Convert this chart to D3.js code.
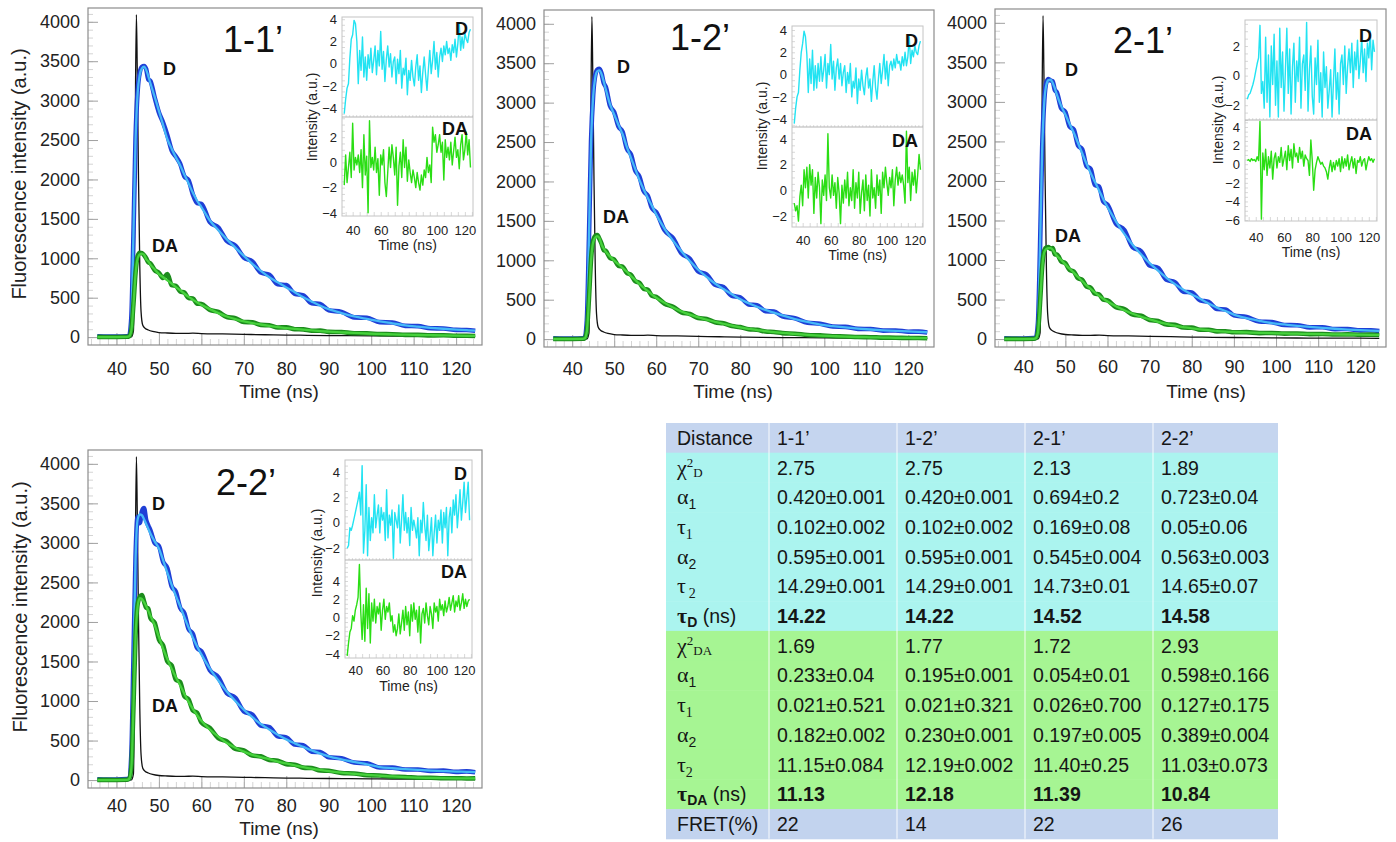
<!DOCTYPE html>
<html><head><meta charset="utf-8">
<script src="https://cdn.jsdelivr.net/npm/d3@7"></script>
<style>body{margin:0;background:#fff}svg{display:block}</style>
</head><body>
<svg id="c" width="1396" height="842"></svg>
<script>
// ---------------- DATA ----------------
const panelNames = ["1-1\u2019", "1-2\u2019", "2-1\u2019", "2-2\u2019"];
const tickX = [40, 50, 60, 70, 80, 90, 100, 110, 120];
const tickY = [0, 500, 1000, 1500, 2000, 2500, 3000, 3500, 4000];
const insetTickX = [40, 60, 80, 100, 120];

// time grid of decay curves (ns)
const decayTime = [35.5, 40, 42.5, 43, 43.5, 44, 44.5, 45, 45.5, 46, 46.5, 47, 47.5, 48, 49, 50, 51, 52, 53, 54, 55, 56, 57, 58, 59, 60, 62, 64, 66, 68, 70, 72, 74, 76, 78, 80, 82, 84, 86, 88, 90, 93, 96, 99, 102, 105, 108, 111, 114, 117, 120, 122.5, 124.5];

// instrument response (black)
const irfTime = [35.5, 43.5, 44.0, 44.3, 44.5, 44.7, 44.9, 45.2, 45.5, 45.8, 46.2, 46.8, 47.5, 48.5, 50, 52, 54, 56, 58, 60, 65, 70, 75, 80, 85, 90, 95, 100, 105, 110, 115, 120, 124.5];
const irfCounts = [0, 2, 80, 1500, 3200, 4090, 3400, 2000, 900, 320, 150, 110, 90, 72, 58, 52, 48, 47, 50, 45, 40, 35, 30, 26, 23, 20, 18, 16, 14, 13, 12, 11, 10];

// 1-1'
const p11_dData = [10, 6, 12, 18, 240, 1280, 2520, 3130, 3360, 3430, 3440, 3400, 3270, 3250, 3040, 2850, 2720, 2560, 2370, 2290, 2200, 2040, 1990, 1810, 1700, 1690, 1460, 1390, 1220, 1160, 1010, 960, 820, 790, 670, 660, 550, 530, 430, 420, 340, 320, 250, 245, 190, 185, 142, 140, 112, 110, 92, 90, 80];
const p11_dFit = [8, 8, 10, 15, 250, 1300, 2500, 3100, 3330, 3410, 3430, 3390, 3310, 3220, 3050, 2870, 2690, 2510, 2390, 2280, 2180, 2060, 1950, 1830, 1730, 1650, 1480, 1355, 1240, 1135, 1030, 930, 840, 760, 695, 630, 570, 505, 450, 398, 355, 305, 262, 230, 200, 175, 150, 133, 118, 106, 96, 88, 82];
const p11_daData = [3, 2, 4, 12, 90, 420, 820, 1030, 1070, 1065, 1040, 1000, 950, 935, 850, 815, 750, 800, 660, 650, 580, 565, 495, 490, 425, 420, 345, 320, 255, 240, 192, 188, 155, 150, 122, 124, 100, 98, 80, 82, 67, 64, 50, 49, 38, 37, 29, 28, 22, 23, 18, 18, 15];
const p11_daFit = [0, 0, 2, 10, 80, 400, 800, 1000, 1050, 1060, 1045, 990, 960, 920, 860, 800, 760, 720, 680, 635, 595, 550, 510, 475, 440, 410, 355, 305, 262, 228, 200, 178, 160, 143, 128, 115, 104, 94, 85, 77, 70, 61, 53, 46, 40, 35, 31, 27, 24, 21, 19, 17, 16];
// 1-2'
const p12_dData = [10, 6, 12, 18, 240, 1280, 2520, 3100, 3350, 3420, 3430, 3370, 3250, 3200, 2960, 2880, 2700, 2630, 2420, 2340, 2140, 2060, 1880, 1820, 1660, 1610, 1380, 1280, 1090, 1020, 860, 820, 690, 660, 550, 530, 440, 430, 355, 350, 290, 265, 208, 195, 160, 155, 130, 128, 108, 110, 94, 95, 84];
const p12_dFit = [8, 8, 10, 15, 250, 1300, 2500, 3080, 3320, 3400, 3410, 3360, 3270, 3170, 2980, 2850, 2720, 2600, 2440, 2300, 2160, 2020, 1900, 1790, 1690, 1580, 1400, 1250, 1115, 990, 880, 790, 705, 635, 570, 505, 455, 410, 370, 335, 300, 255, 218, 185, 165, 148, 134, 122, 112, 104, 97, 91, 87];
const p12_daData = [3, 2, 4, 12, 110, 520, 1020, 1250, 1310, 1320, 1270, 1210, 1130, 1120, 1030, 1010, 930, 920, 840, 815, 735, 715, 640, 625, 550, 535, 450, 410, 340, 318, 268, 255, 214, 200, 165, 152, 126, 118, 97, 90, 76, 68, 53, 47, 37, 33, 26, 24, 19, 18, 14, 14, 11];
const p12_daFit = [0, 0, 2, 10, 100, 500, 1000, 1230, 1290, 1305, 1280, 1200, 1150, 1110, 1050, 995, 950, 905, 855, 800, 750, 700, 655, 610, 565, 525, 460, 400, 350, 310, 275, 248, 220, 195, 170, 148, 130, 115, 100, 88, 78, 66, 55, 45, 38, 32, 27, 23, 20, 17, 15, 13, 12];
// 2-1'
const p21_dData = [10, 6, 12, 18, 210, 1180, 2420, 3020, 3250, 3290, 3270, 3260, 3150, 3120, 2920, 2870, 2690, 2650, 2450, 2400, 2190, 2150, 1950, 1930, 1740, 1700, 1460, 1380, 1160, 1110, 930, 900, 750, 720, 600, 590, 490, 470, 380, 375, 300, 280, 222, 215, 178, 176, 148, 150, 126, 128, 110, 112, 102];
const p21_dFit = [8, 8, 10, 15, 220, 1200, 2400, 3000, 3220, 3275, 3280, 3240, 3170, 3090, 2950, 2840, 2720, 2610, 2480, 2350, 2220, 2100, 1990, 1880, 1770, 1670, 1490, 1330, 1190, 1070, 960, 865, 775, 695, 625, 565, 510, 450, 398, 355, 310, 265, 232, 203, 185, 168, 154, 142, 131, 121, 113, 107, 104];
const p21_daData = [3, 2, 4, 12, 95, 470, 920, 1120, 1160, 1165, 1140, 1150, 1070, 1070, 985, 960, 875, 855, 770, 750, 665, 650, 575, 565, 500, 490, 405, 380, 310, 295, 242, 228, 186, 180, 146, 145, 118, 118, 98, 100, 86, 88, 76, 78, 69, 71, 63, 64, 58, 60, 55, 56, 52];
const p21_daFit = [0, 0, 2, 10, 90, 450, 900, 1100, 1140, 1150, 1150, 1130, 1090, 1055, 1000, 945, 890, 840, 785, 735, 680, 635, 590, 550, 510, 475, 415, 365, 320, 282, 250, 218, 192, 170, 152, 135, 123, 112, 102, 95, 90, 84, 79, 75, 72, 68, 65, 62, 60, 58, 56, 54, 53];
// 2-2'
const p22_dData = [10, 6, 12, 22, 310, 1520, 2820, 3330, 3250, 3400, 3440, 3290, 3220, 3160, 3000, 2960, 2760, 2680, 2450, 2380, 2180, 2110, 1910, 1850, 1670, 1630, 1390, 1300, 1100, 1040, 870, 830, 690, 670, 555, 540, 450, 440, 360, 355, 290, 275, 222, 212, 160, 158, 134, 134, 116, 120, 104, 110, 98];
const p22_dFit = [8, 8, 10, 20, 300, 1500, 2800, 3300, 3360, 3350, 3300, 3240, 3180, 3120, 3020, 2930, 2780, 2620, 2470, 2330, 2200, 2060, 1930, 1800, 1690, 1590, 1410, 1260, 1120, 1000, 890, 795, 710, 640, 575, 515, 465, 420, 375, 335, 300, 262, 230, 200, 165, 150, 138, 128, 120, 114, 108, 104, 102];
const p22_daData = [3, 2, 4, 18, 160, 920, 1830, 2230, 2320, 2340, 2260, 2180, 2170, 2050, 1990, 1780, 1700, 1500, 1450, 1270, 1240, 1060, 1020, 880, 850, 730, 660, 530, 490, 395, 375, 310, 300, 255, 245, 202, 195, 158, 152, 122, 118, 90, 84, 62, 58, 43, 40, 30, 29, 24, 24, 21, 22];
const p22_daFit = [0, 0, 2, 15, 150, 900, 1800, 2200, 2300, 2290, 2250, 2200, 2140, 2080, 1960, 1810, 1660, 1530, 1410, 1300, 1200, 1090, 990, 900, 820, 750, 640, 550, 470, 410, 360, 320, 290, 265, 235, 210, 187, 165, 145, 128, 113, 95, 80, 66, 55, 46, 38, 32, 28, 25, 23, 22, 21];

// residual time grid (ns)
const resTime = [34,35,36,37,38,39,40,41,42,43,44,45,46,47,48,49,50,51,52,53,54,55,56,57,58,59,60,61,62,63,64,65,66,67,68,69,70,71,72,73,74,75,76,77,78,79,80,81,82,83,84,85,86,87,88,89,90,91,92,93,94,95,96,97,98,99,100,101,102,103,104,105,106,107,108,109,110,111,112,113,114,115,116,117,118,119,120,121,122,123,124];

const p11_resD = [-4.5,-3.2,-2.2,-1.8,0.5,2.2,2.6,3.9,3.6,2.0, -1.8,1.2,-0.6,2.4,-1.2,0.6,-1.5,0.8,-0.4,1.4, -0.8,0.3,1.6,-1.0,1.2,-0.2,2.9,-0.5,1.1,-1.6, 0.4,1.6,-0.3,0.9,-1.2,0.2,0.6,-1.8,0.4,-0.9, 1.2,-2.2,-0.4,-1.0,0.5,-2.8,-0.6,-1.5,0.3,-1.2, -2.0,-0.3,0.8,-1.5,-0.2,-2.6,-0.8,0.6,-1.0,-2.4, -0.5,1.2,-0.9,0.3,2.0,-0.5,1.0,-1.2,0.6,1.4, 0.2,1.6,0.8,2.0,0.9,1.4,0.3,1.7,1.0,2.2, 0.6,1.8,3.6,1.2,2.4,1.4,2.8,2.2,1.9,2.8,3.1];
const p11_resDA = [-1.8,0.6,-1.6,-0.4,0.8,-1.2,3.1,-0.6,0.4,-0.2, 0.6,-0.8,1.0,-2.0,2.2,-1.0,0.5,-4.0,3.3,-0.4, 0.4,-0.6,1.2,-0.8,0.3,-2.6,0.6,-0.2,1.0,-1.6, -2.7,-0.8,1.2,-0.4,1.4,0.4,-1.0,1.2,-3.4,-0.3, 0.8,-1.2,1.8,-0.4,1.2,-1.5,0.2,-0.8,-1.6,-0.6, -1.2,-2.0,-0.8,-1.6,-2.2,-1.0,-1.8,-0.6,-1.2,0.4, -0.8,-0.2,-1.6,2.8,1.6,2.2,0.8,1.4,2.2,0.8, 1.6,-1.4,1.8,0.4,1.2,0.2,1.6,-0.2,0.9,2.0, 0.4,1.0,-0.5,1.4,2.2,0.2,1.0,2.4,0.6,1.8,-0.4];
const p12_resD = [-4.4,-3.0,-2.0,-1.6,0.4,2.0,2.8,3.9,3.4,1.8, -1.6,1.4,-0.8,2.2,-1.4,0.8,-1.2,1.0,-0.6,1.6, -0.6,0.4,1.8,-1.2,1.0,0.0,2.7,-0.4,1.2,-1.4, 0.6,1.4,-0.4,1.0,-1.0,0.2,0.8,-1.6,0.2,-0.8, 1.0,-2.0,-0.6,-1.2,0.6,-2.6,-0.4,-1.4,0.4,-1.0, -1.8,-0.2,0.6,-1.2,-0.4,-2.4,-0.6,0.8,-1.2,-2.2, -0.4,1.0,-0.8,0.4,1.8,-0.4,1.2,-1.0,0.8,1.2, 0.4,1.4,0.6,1.8,1.0,1.2,0.4,1.6,0.8,2.0, 0.8,1.6,3.4,1.0,2.2,1.6,2.6,2.0,1.8,2.6,3.0];
const p12_resDA = [-1.0,-1.6,-1.2,-2.4,-0.5,0.4,-1.2,1.6,0.2,1.8, -0.6,2.0,0.4,1.6,-1.8,1.0,-0.6,1.4,0.2,-2.6, 0.8,-0.4,1.2,-0.8,4.4,0.2,-0.6,1.2,-0.4,0.6, -1.4,1.0,-0.2,-2.6,0.4,-1.0,0.8,-0.6,1.4,-1.2, 0.2,-0.8,1.6,-1.4,0.6,-0.6,1.4,-1.8,-0.2,0.8, -1.6,1.2,-0.8,0.4,-2.0,1.6,-0.6,0.2,-1.4,1.2, -0.4,0.8,-1.8,1.4,0.2,1.8,0.6,-0.4,1.0,0.2, 1.6,-1.2,0.8,1.8,0.4,1.4,0.6,1.2,0.4,-1.0, 4.6,0.6,1.8,-0.8,1.4,0.4,1.6,-0.2,1.2,2.8,1.6];
const p21_resD = [-1.6,-1.3,-1.2,-0.9,-0.6,-0.2,0.3,0.8,1.2,3.4, -1.2,-0.4,-2.2,2.6,-1.8,1.4,-2.8,2.0,-0.6,2.8, -2.0,1.0,-2.8,3.2,-0.8,1.6,-2.4,0.4,3.2,-1.2, 1.8,-2.6,0.6,2.2,-1.8,1.0,-0.4,2.6,-2.2,0.8, 1.4,-1.0,3.6,-2.4,0.4,2.0,-1.4,-2.6,1.2,-0.6, 2.4,-1.8,0.2,-2.8,1.6,-0.8,0.6,-2.2,-1.0,0.4, -2.8,-0.4,1.8,-1.6,0.2,-2.6,0.8,1.4,-0.6,2.0, -1.2,0.6,1.8,0.2,2.2,-0.8,1.6,0.4,2.4,-0.2, 1.0,2.6,0.2,1.8,-0.4,2.2,1.2,3.0,0.4,2.4,1.6];
const p21_resDA = [0.4,0.5,0.3,0.6,0.4,0.5,0.3,0.8,0.4,4.6, -5.9,1.2,-0.6,1.6,-1.2,0.8,-0.4,1.4,-1.6,0.6, 1.2,-0.4,0.8,0.2,1.8,-0.2,0.6,1.4,-0.6,2.0, 0.4,1.6,-0.4,2.2,0.8,1.2,0.2,1.8,0.6,1.4, -0.2,1.0,0.6,0.4,-1.2,2.6,0.4,-2.8,-0.6,0.2, 0.8,0.4,0.0,0.2,-0.2,-0.4,-0.8,-1.6,-0.4,0.4, -0.8,0.2,-0.6,0.4,-0.2,0.6,-0.8,0.8,-0.4,0.6, -0.2,1.0,-0.6,0.2,0.8,-0.4,0.6,-1.0,0.4,0.2, 0.8,-0.2,0.4,0.6,-0.6,0.2,0.8,0.4,0.6,0.2,0.6];
const p22_resD = [-2.0,-1.8,-0.4,-0.6,-0.2,0.3,0.8,1.3,1.8,2.4, 0.6,4.5,-2.4,-0.6,3.0,-2.6,1.2,-1.4,0.4,-0.8, 2.2,-0.4,0.6,1.4,-0.8,1.2,0.2,0.8,-1.4,2.6, -1.2,0.6,-0.2,1.0,-2.8,0.8,0.2,-0.4,1.4,-1.6, 0.2,2.2,-0.6,0.8,-0.8,0.4,-1.8,1.2,-0.6,0.2, -0.4,-1.2,0.4,-2.6,0.2,-0.8,1.6,-0.2,-1.4,0.6, -2.2,-1.0,0.4,-2.6,-0.8,0.6,-1.6,0.2,-0.6,1.0, -1.6,0.8,-0.4,1.2,-2.6,0.4,1.2,-0.8,1.8,0.6, 2.2,-0.4,1.0,2.6,0.2,1.6,3.2,0.8,2.0,3.2,0.2];
const p22_resDA = [-4.2,-2.8,-1.6,-1.2,0.2,-0.4,0.8,1.4,2.2,5.8, 0.6,-2.4,1.4,-2.6,3.2,-1.2,2.6,-2.8,1.6,-0.4, 2.0,-0.6,1.2,0.4,1.6,-1.4,0.8,2.0,-0.2,1.2, 0.6,1.6,-0.4,0.2,-1.6,-0.8,-2.0,-1.2,0.4,-1.8, -0.6,0.8,-1.4,1.2,-0.8,0.6,-2.0,1.4,-0.4,1.6, -0.2,0.8,-1.6,1.2,-2.8,0.4,1.0,-0.6,1.6,0.2, -0.8,1.2,0.4,-1.2,1.6,0.6,1.2,-0.4,2.0,0.8, 1.4,0.2,1.8,0.6,1.2,2.2,0.8,1.6,2.4,0.6, 1.8,1.2,2.4,0.8,1.6,2.6,1.0,2.0,1.2,1.8,2.0];

// inset axis ranges and tick labels
const p11_insetTicksD = [4, 2, 0, -2, -4], p11_insetTicksDA = [2, 0, -2, -4];
const p12_insetTicksD = [4, 2, 0, -2, -4], p12_insetTicksDA = [4, 2, 0, -2];
const p21_insetTicksD = [2, 0, -2], p21_insetTicksDA = [4, 2, 0, -2, -4, -6];
const p22_insetTicksD = [4, 2, 0, -2], p22_insetTicksDA = [4, 2, 0, -2, -4];
const p11_insetRange = {d: [-4.8, 4.2], da: [-4.25, 3.6]};
const p12_insetRange = {d: [-4.7, 4.36], da: [-2.86, 4.93]};
const p21_insetRange = {d: [-3.0, 3.76], da: [-6.1, 4.75]};
const p22_insetRange = {d: [-2.94, 4.94], da: [-4.44, 6.3]};

// table
const tableHeader = ["Distance", "1-1\u2019", "1-2\u2019", "2-1\u2019", "2-2\u2019"];
const tableRowLabels = [
  {sym: "\u03c7", sup: "2", sub: "D"},
  {sym: "\u03b1", sub: "1", subSans: true},
  {sym: "\u03c4", sub: "1"},
  {sym: "\u03b1", sub: "2", subSans: true},
  {sym: "\u03c4", sub: "2", gap: true},
  {sym: "\u03c4", sub: "D", tail: " (ns)", bold: true},
  {sym: "\u03c7", sup: "2", sub: "DA"},
  {sym: "\u03b1", sub: "1", subSans: true},
  {sym: "\u03c4", sub: "1"},
  {sym: "\u03b1", sub: "2", subSans: true},
  {sym: "\u03c4", sub: "2"},
  {sym: "\u03c4", sub: "DA", tail: " (ns)", bold: true},
  {text: "FRET(%)"}
];
const tableValues = [
  ["2.75", "2.75", "2.13", "1.89"],
  ["0.420\u00b10.001", "0.420\u00b10.001", "0.694\u00b10.2", "0.723\u00b10.04"],
  ["0.102\u00b10.002", "0.102\u00b10.002", "0.169\u00b10.08", "0.05\u00b10.06"],
  ["0.595\u00b10.001", "0.595\u00b10.001", "0.545\u00b10.004", "0.563\u00b10.003"],
  ["14.29\u00b10.001", "14.29\u00b10.001", "14.73\u00b10.01", "14.65\u00b10.07"],
  ["14.22", "14.22", "14.52", "14.58"],
  ["1.69", "1.77", "1.72", "2.93"],
  ["0.233\u00b10.04", "0.195\u00b10.001", "0.054\u00b10.01", "0.598\u00b10.166"],
  ["0.021\u00b10.521", "0.021\u00b10.321", "0.026\u00b10.700", "0.127\u00b10.175"],
  ["0.182\u00b10.002", "0.230\u00b10.001", "0.197\u00b10.005", "0.389\u00b10.004"],
  ["11.15\u00b10.084", "12.19\u00b10.002", "11.40\u00b10.25", "11.03\u00b10.073"],
  ["11.13", "12.18", "11.39", "10.84"],
  ["22", "14", "22", "26"]
];
const tableGroups = ["D", "D", "D", "D", "D", "D", "DA", "DA", "DA", "DA", "DA", "DA", "FRET"];

// ---------------- LAYOUT / STYLE ----------------
const SANS = "'Liberation Sans', Arial, Helvetica, sans-serif";
const SERIF = "'Liberation Serif', 'Times New Roman', serif";
const mainXDomain = [33.3, 126.1], mainYDomain = [-100, 4175];
const insetXDomain = [32.4, 125.8];
const COL = {dData: "#1f3fd6", dFit: "#45b9f7", daData: "#1c8c1c", daFit: "#46d23c", irf: "#111", resD: "#22e3f2", resDA: "#2ade14"};
const fmtInt = d3.format("d");

const panels = [
  {name: panelNames[0], dData: p11_dData, dFit: p11_dFit, daData: p11_daData, daFit: p11_daFit, resD: p11_resD, resDA: p11_resDA, tD: p11_insetTicksD, tDA: p11_insetTicksDA, rng: p11_insetRange,
   L: {x: 88, y: 8, w: 394, h: 337, yTitle: {x: 19, y: 174}, title: {x: 253, y: 52}, dLbl: {x: 163, y: 75}, daLbl: {x: 152, y: 252}, xTickBase: 375, xTitle: {x: 279, y: 398},
       ins: {x: 342, y: 17, w: 131, mid: 117, bot: 216, tickBase: 235, titleY: 250, ylabX: 312, ylabY: 117, dLblY: 35, daLblY: 135}}},
  {name: panelNames[1], dData: p12_dData, dFit: p12_dFit, daData: p12_daData, daFit: p12_daFit, resD: p12_resD, resDA: p12_resDA, tD: p12_insetTicksD, tDA: p12_insetTicksDA, rng: p12_insetRange,
   L: {x: 544, y: 10, w: 390, h: 337, yTitle: null, title: {x: 700, y: 50}, dLbl: {x: 617, y: 73}, daLbl: {x: 603, y: 223}, xTickBase: 375, xTitle: {x: 733, y: 398},
       ins: {x: 792, y: 26, w: 131, mid: 127, bot: 227, tickBase: 245, titleY: 260, ylabX: 762, ylabY: 126, dLblY: 47, daLblY: 147}}},
  {name: panelNames[2], dData: p21_dData, dFit: p21_dFit, daData: p21_daData, daFit: p21_daFit, resD: p21_resD, resDA: p21_resDA, tD: p21_insetTicksD, tDA: p21_insetTicksDA, rng: p21_insetRange,
   L: {x: 995, y: 9, w: 391, h: 338, yTitle: null, title: {x: 1143, y: 53}, dLbl: {x: 1065, y: 76}, daLbl: {x: 1055, y: 242}, xTickBase: 373, xTitle: {x: 1206, y: 398},
       ins: {x: 1245, y: 20, w: 132, mid: 120, bot: 221, tickBase: 242, titleY: 257, ylabX: 1218, ylabY: 120, dLblY: 42, daLblY: 140}}},
  {name: panelNames[3], dData: p22_dData, dFit: p22_dFit, daData: p22_daData, daFit: p22_daFit, resD: p22_resD, resDA: p22_resDA, tD: p22_insetTicksD, tDA: p22_insetTicksDA, rng: p22_insetRange,
   L: {x: 88, y: 450, w: 394, h: 338, yTitle: {x: 20, y: 607}, title: {x: 246, y: 495}, dLbl: {x: 152, y: 510}, daLbl: {x: 152, y: 712}, xTickBase: 812, xTitle: {x: 279, y: 835},
       ins: {x: 345, y: 460, w: 127, mid: 560, bot: 658, tickBase: 675, titleY: 691, ylabX: 317, ylabY: 553, dLblY: 480, daLblY: 578}}}
];

const svg = d3.select("#c");
const defs = svg.append("defs");

function styleAxis(sel, size, color) {
  sel.attr("font-family", SANS).attr("font-size", size);
  sel.select(".domain").remove();
  sel.selectAll("text").attr("fill", color || "#222");
}
function tickMarks(sel, color, w) {
  sel.select(".domain").remove();
  sel.selectAll("line").attr("stroke", color).attr("stroke-width", w || 1);
}

panels.forEach((p, i) => {
  const L = p.L;
  const g = svg.append("g");
  const x = d3.scaleLinear().domain(mainXDomain).range([L.x, L.x + L.w]);
  const y = d3.scaleLinear().domain(mainYDomain).range([L.y + L.h, L.y]);
  const cid = "clipMain" + i;
  defs.append("clipPath").attr("id", cid).append("rect").attr("x", L.x).attr("y", L.y).attr("width", L.w).attr("height", L.h);

  // ruler-like ticks inside the frame
  g.append("g").attr("transform", `translate(${L.x},0)`)
    .call(d3.axisRight(y).tickValues(d3.range(0, 4101, 100)).tickSize(5).tickFormat(""))
    .call(s => tickMarks(s, "#d4d4d4"));
  g.append("g").attr("transform", `translate(${L.x},0)`)
    .call(d3.axisRight(y).tickValues(tickY).tickSize(10).tickFormat(""))
    .call(s => tickMarks(s, "#a0a0a0"));
  g.append("g").attr("transform", `translate(0,${L.y + L.h})`)
    .call(d3.axisTop(x).tickValues(d3.range(34, 126, 2)).tickSize(6).tickFormat(""))
    .call(s => tickMarks(s, "#d4d4d4"));
  g.append("g").attr("transform", `translate(0,${L.y + L.h})`)
    .call(d3.axisTop(x).tickValues(tickX).tickSize(12).tickFormat(""))
    .call(s => tickMarks(s, "#a8a8a8"));

  // tick labels
  g.append("g").attr("transform", `translate(${L.x},0)`)
    .call(d3.axisLeft(y).tickValues(tickY).tickFormat(fmtInt).tickSize(0).tickPadding(8))
    .call(s => styleAxis(s, 18));
  g.append("g").attr("transform", `translate(0,${L.y + L.h})`)
    .call(d3.axisBottom(x).tickValues(tickX).tickFormat(fmtInt).tickSize(0).tickPadding(L.xTickBase - (L.y + L.h) - 12.8))
    .call(s => styleAxis(s, 18));

  // frame
  g.append("rect").attr("x", L.x).attr("y", L.y).attr("width", L.w).attr("height", L.h)
    .attr("fill", "none").attr("stroke", "#8c8c8c").attr("stroke-width", 1.2);

  // curves
  const curves = g.append("g").attr("clip-path", `url(#${cid})`);
  const lineDecay = d3.line().x((d, k) => x(decayTime[k])).y(d => y(d)).curve(d3.curveMonotoneX);
  const lineIrf = d3.line().x((d, k) => x(irfTime[k])).y(d => y(d)).curve(d3.curveMonotoneX);
  curves.append("path").attr("d", lineIrf(irfCounts)).attr("fill", "none").attr("stroke", COL.irf).attr("stroke-width", 1.3);
  curves.append("path").attr("d", lineDecay(p.dData)).attr("fill", "none").attr("stroke", COL.dData).attr("stroke-width", 4.6).attr("stroke-linejoin", "round");
  curves.append("path").attr("d", lineDecay(p.dFit)).attr("fill", "none").attr("stroke", COL.dFit).attr("stroke-width", 2.3);
  curves.append("path").attr("d", lineDecay(p.daData)).attr("fill", "none").attr("stroke", COL.daData).attr("stroke-width", 4.6).attr("stroke-linejoin", "round");
  curves.append("path").attr("d", lineDecay(p.daFit)).attr("fill", "none").attr("stroke", COL.daFit).attr("stroke-width", 2.3);

  // labels
  g.append("text").attr("x", L.title.x).attr("y", L.title.y).attr("text-anchor", "middle")
    .attr("font-family", SANS).attr("font-size", 36).attr("fill", "#111").text(p.name);
  g.append("text").attr("x", L.dLbl.x).attr("y", L.dLbl.y).attr("font-family", SANS).attr("font-weight", "bold").attr("font-size", 18).attr("fill", "#111").text("D");
  g.append("text").attr("x", L.daLbl.x).attr("y", L.daLbl.y).attr("font-family", SANS).attr("font-weight", "bold").attr("font-size", 18).attr("fill", "#111").text("DA");
  g.append("text").attr("x", L.xTitle.x).attr("y", L.xTitle.y).attr("text-anchor", "middle")
    .attr("font-family", SANS).attr("font-size", 19).attr("fill", "#222").text("Time (ns)");
  if (L.yTitle) {
    g.append("text").attr("transform", `translate(${L.yTitle.x},${L.yTitle.y}) rotate(-90)`).attr("text-anchor", "middle").attr("dy", "0.35em")
      .attr("font-family", SANS).attr("font-size", 20).attr("fill", "#222").text("Fluorescence intensity (a.u.)");
  }

  // ---------- inset (residuals) ----------
  const I = L.ins;
  const gi = svg.append("g");
  const xi = d3.scaleLinear().domain(insetXDomain).range([I.x, I.x + I.w]);
  const yD = d3.scaleLinear().domain(p.rng.d).range([I.mid, I.y]);
  const yA = d3.scaleLinear().domain(p.rng.da).range([I.bot, I.mid]);
  gi.append("rect").attr("x", I.x).attr("y", I.y).attr("width", I.w).attr("height", I.bot - I.y).attr("fill", "#fff");
  // ruler ticks
  gi.append("g").attr("transform", `translate(${I.x},0)`)
    .call(d3.axisRight(yD).tickValues(d3.range(Math.ceil(p.rng.d[0] * 2) / 2, p.rng.d[1], 0.5)).tickSize(3).tickFormat(""))
    .call(s => tickMarks(s, "#d8d8d8"));
  gi.append("g").attr("transform", `translate(${I.x},0)`)
    .call(d3.axisRight(yA).tickValues(d3.range(Math.ceil(p.rng.da[0] * 2) / 2, p.rng.da[1], 0.5)).tickSize(3).tickFormat(""))
    .call(s => tickMarks(s, "#d8d8d8"));
  gi.append("g").attr("transform", `translate(0,${I.bot})`)
    .call(d3.axisTop(xi).tickValues(d3.range(35, 126, 5)).tickSize(4).tickFormat(""))
    .call(s => tickMarks(s, "#d8d8d8"));
  gi.append("g").attr("transform", `translate(0,${I.mid})`)
    .call(d3.axisTop(xi).tickValues(d3.range(35, 126, 2.5)).tickSize(2).tickFormat(""))
    .call(s => tickMarks(s, "#dddddd"));
  // tick labels
  gi.append("g").attr("transform", `translate(${I.x},0)`)
    .call(d3.axisLeft(yD).tickValues(p.tD).tickFormat(fmtInt).tickSize(0).tickPadding(5))
    .call(s => styleAxis(s, 13));
  gi.append("g").attr("transform", `translate(${I.x},0)`)
    .call(d3.axisLeft(yA).tickValues(p.tDA).tickFormat(fmtInt).tickSize(0).tickPadding(5))
    .call(s => styleAxis(s, 13));
  gi.append("g").attr("transform", `translate(0,${I.bot})`)
    .call(d3.axisBottom(xi).tickValues(insetTickX).tickFormat(fmtInt).tickSize(0).tickPadding(I.tickBase - I.bot - 9.2))
    .call(s => styleAxis(s, 13));
  // frames
  gi.append("rect").attr("x", I.x).attr("y", I.y).attr("width", I.w).attr("height", I.bot - I.y)
    .attr("fill", "none").attr("stroke", "#c4c4c4").attr("stroke-width", 1);
  gi.append("line").attr("x1", I.x).attr("x2", I.x + I.w).attr("y1", I.mid).attr("y2", I.mid)
    .attr("stroke", "#b4b4b4").attr("stroke-width", 1.2);
  // residual lines
  const cD = "clipD" + i, cA = "clipA" + i;
  defs.append("clipPath").attr("id", cD).append("rect").attr("x", I.x).attr("y", I.y).attr("width", I.w).attr("height", I.mid - I.y);
  defs.append("clipPath").attr("id", cA).append("rect").attr("x", I.x).attr("y", I.mid).attr("width", I.w).attr("height", I.bot - I.mid);
  const lD = d3.line().x((d, k) => xi(resTime[k])).y(d => yD(d));
  const lA = d3.line().x((d, k) => xi(resTime[k])).y(d => yA(d));
  gi.append("path").attr("clip-path", `url(#${cD})`).attr("d", lD(p.resD)).attr("fill", "none").attr("stroke", COL.resD).attr("stroke-width", 1.4).attr("stroke-linejoin", "round");
  gi.append("path").attr("clip-path", `url(#${cA})`).attr("d", lA(p.resDA)).attr("fill", "none").attr("stroke", COL.resDA).attr("stroke-width", 1.4).attr("stroke-linejoin", "round");
  // inset texts
  gi.append("text").attr("x", I.x + I.w - 5).attr("y", I.dLblY).attr("text-anchor", "end")
    .attr("font-family", SANS).attr("font-weight", "bold").attr("font-size", 18).attr("fill", "#111").text("D");
  gi.append("text").attr("x", I.x + I.w - 5).attr("y", I.daLblY).attr("text-anchor", "end")
    .attr("font-family", SANS).attr("font-weight", "bold").attr("font-size", 18).attr("fill", "#111").text("DA");
  gi.append("text").attr("x", I.x + I.w / 2).attr("y", I.titleY).attr("text-anchor", "middle")
    .attr("font-family", SANS).attr("font-size", 14).attr("fill", "#222").text("Time (ns)");
  gi.append("text").attr("transform", `translate(${I.ylabX},${I.ylabY}) rotate(-90)`).attr("text-anchor", "middle").attr("dy", "0.35em")
    .attr("font-family", SANS).attr("font-size", 14).attr("fill", "#222").text("Intensity (a.u.)");
});

// ---------------- TABLE ----------------
const T = {x: 666, y: 423, rowH: 29.7, colX: [666, 769, 897, 1025, 1153, 1278], textX: [677, 777, 905, 1033, 1161]};
const groupFill = {HEAD: "#c5d5ef", D: "#abf4ef", DA: "#a6f593", FRET: "#c2d3ee"};
const gt = svg.append("g").attr("font-family", SANS).attr("fill", "#161616");
const rowsAll = ["HEAD"].concat(tableGroups);
rowsAll.forEach((grp, r) => {
  gt.append("rect").attr("x", T.x).attr("y", T.y + r * T.rowH).attr("width", T.colX[5] - T.x).attr("height", T.rowH + 0.5)
    .attr("fill", groupFill[grp]);
});
T.colX.slice(1, 5).forEach(cx => {
  gt.append("line").attr("x1", cx).attr("x2", cx).attr("y1", T.y).attr("y2", T.y + rowsAll.length * T.rowH)
    .attr("stroke", "#fff").attr("stroke-opacity", 0.75).attr("stroke-width", 1.2);
});
const base = r => T.y + T.rowH * (r + 0.5) + 7;
tableHeader.forEach((h, c) => {
  gt.append("text").attr("x", T.textX[c]).attr("y", base(0)).attr("font-size", 19.5).text(h);
});
tableRowLabels.forEach((lab, k) => {
  const r = k + 1;
  const t = gt.append("text").attr("x", T.textX[0]).attr("y", base(r)).attr("font-size", 19.5);
  if (lab.text) { t.text(lab.text); return; }
  t.append("tspan").attr("font-family", SERIF).attr("font-size", 22).attr("font-weight", lab.bold ? "bold" : null).text(lab.sym);
  if (lab.sup) {
    t.append("tspan").attr("font-family", SERIF).attr("font-size", 13).attr("dy", -8).text(lab.sup);
    t.append("tspan").attr("font-family", SERIF).attr("font-size", 13).attr("dy", 10).text(lab.sub);
  } else if (lab.bold) {
    t.append("tspan").attr("font-family", SANS).attr("font-weight", "bold").attr("font-size", 14).attr("dy", 4).text(lab.sub);
    t.append("tspan").attr("font-size", 19.5).attr("dy", -4).text(lab.tail);
  } else {
    t.append("tspan").attr("font-family", lab.subSans ? SANS : SERIF).attr("font-size", 14).attr("dx", lab.gap ? 3 : 0).attr("dy", 5).text(lab.sub);
  }
});
tableValues.forEach((row, k) => {
  const r = k + 1;
  const bold = tableRowLabels[k].bold;
  row.forEach((v, c) => {
    gt.append("text").attr("x", T.textX[c + 1]).attr("y", base(r)).attr("font-size", 19.5)
      .attr("font-weight", bold ? "bold" : null).text(v);
  });
});
</script>
</body></html>
